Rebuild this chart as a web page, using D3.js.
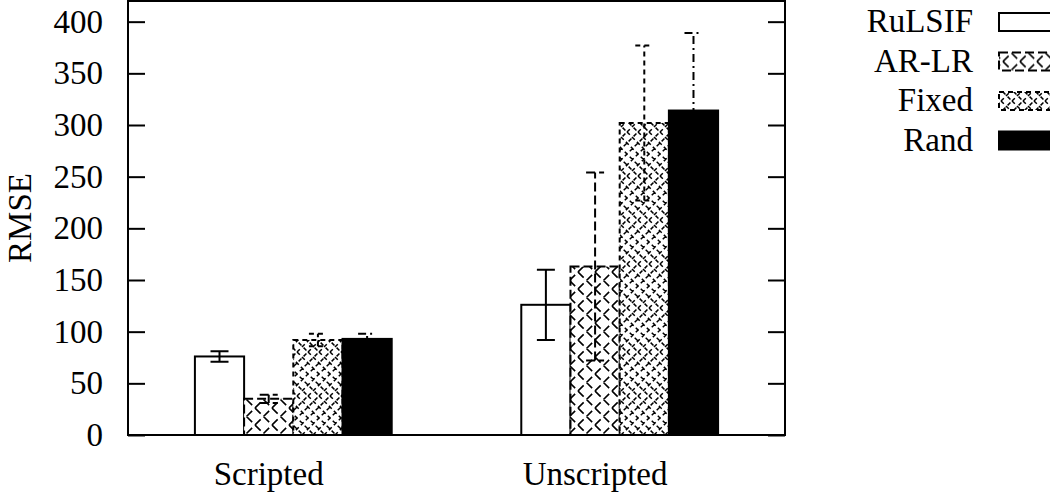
<!DOCTYPE html>
<html>
<head>
<meta charset="utf-8">
<script src="https://cdn.jsdelivr.net/npm/d3@7"></script>
<style>
  body { margin: 0; background: #fff; }
  text { font-family: "Liberation Serif", "DejaVu Serif", serif; fill: #000; }
</style>
</head>
<body>
<div id="chart"></div>
<script>
// data
var groups = ["Scripted", "Unscripted"]
var series = ["RuLSIF", "AR-LR", "Fixed", "Rand"]
var rulsif = [76, 126]
var arlr = [35, 163]
var fixed = [92, 302]
var rand = [93, 314]
var rulsifErr = [5, 34]
var arlrErr = [4, 91]
var fixedErr = [6, 75]
var randErr = [5, 75]
var yTicks = [0, 50, 100, 150, 200, 250, 300, 350, 400]

var means = [rulsif, arlr, fixed, rand]
var errs = [rulsifErr, arlrErr, fixedErr, randErr]

var width = 1050
var height = 495
var plot = { left: 128, right: 785, top: 1, bottom: 435 }
var fontSize = "33px"

var svg = d3.select("#chart")
  .append("svg")
    .attr("width", width)
    .attr("height", height)

// fill patterns, drawn like gnuplot dashed hatch
var defs = svg.append("defs")

function hatch(id, size, n, dash, sw) {
  var p = defs.append("pattern")
    .attr("id", id)
    .attr("patternUnits", "userSpaceOnUse")
    .attr("width", size)
    .attr("height", size)
  p.append("rect").attr("width", size).attr("height", size).attr("fill", "#fff")
  var step = size / n
  var d = ""
  for (var k = -n; k <= n; k++) {
    var o = k * step
    d += "M" + o + ",0L" + (o + size) + "," + size
    d += "M" + o + "," + size + "L" + (o + size) + ",0"
  }
  p.append("path")
    .attr("d", d)
    .attr("stroke", "#000")
    .attr("stroke-width", sw)
    .attr("stroke-dasharray", dash)
}
hatch("pat-arlr", 17, 1, "8,4", 1.6)
hatch("pat-fixed", 44, 4, "4,3", 1.5)

// style per series
var fills = ["#fff", "url(#pat-arlr)", "url(#pat-fixed)", "#000"]
var dashes = [null, "9,4", "5,4", "8,4,2,4"]
var barDashes = [null, "9,4", "5,4", null]

// scales
var y = d3.scaleLinear()
  .domain([0, 420])
  .range([plot.bottom, plot.top])

var x0 = d3.scaleBand()
  .domain(groups)
  .range([plot.left, plot.right])
  .paddingInner(0.397)
  .paddingOuter(0.205)

var x1 = d3.scaleBand()
  .domain(series)
  .range([0, x0.bandwidth()])

// bars
var rows = []
groups.forEach(function(g, gi) {
  series.forEach(function(s, si) {
    rows.push({ group: g, series: s, si: si, value: means[si][gi], err: errs[si][gi] })
  })
})

svg.append("g")
  .selectAll("rect")
  .data(rows)
  .enter()
  .append("rect")
    .attr("x", function(d) { return x0(d.group) + x1(d.series) })
    .attr("y", function(d) { return y(d.value) })
    .attr("width", x1.bandwidth())
    .attr("height", function(d) { return y(0) - y(d.value) })
    .attr("fill", function(d) { return fills[d.si] })
    .attr("stroke", "#000")
    .attr("stroke-width", 2)
    .attr("stroke-dasharray", function(d) { return barDashes[d.si] })

// error bars
var capW = 9
var eb = svg.append("g")
  .selectAll("g")
  .data(rows)
  .enter()
  .append("g")
    .attr("stroke", "#000")
    .attr("stroke-width", 2)
    .attr("fill", "none")
    .attr("stroke-dasharray", function(d) { return dashes[d.si] })

eb.append("path")
  .attr("d", function(d) {
    var cx = x0(d.group) + x1(d.series) + x1.bandwidth() / 2
    var lo = y(d.value - d.err), hi = y(d.value + d.err)
    return "M" + cx + "," + lo + "V" + hi +
      "M" + (cx - capW) + "," + hi + "H" + (cx + capW) +
      "M" + (cx - capW) + "," + lo + "H" + (cx + capW)
  })

// frame with inward ticks on both sides
var axisL = d3.axisLeft(y).tickValues(yTicks).tickSize(-17).tickPadding(25)
var axisR = d3.axisRight(y).tickValues(yTicks).tickSize(-17).tickFormat("")

var gl = svg.append("g")
  .attr("transform", "translate(" + plot.left + ",0)")
  .call(axisL)
gl.select(".domain").remove()
gl.selectAll("line").attr("stroke-width", 2)
gl.selectAll("text")
  .style("font-family", "Liberation Serif")
  .style("font-size", fontSize)

var gr = svg.append("g")
  .attr("transform", "translate(" + plot.right + ",0)")
  .call(axisR)
gr.select(".domain").remove()
gr.selectAll("line").attr("stroke-width", 2)

svg.append("rect")
  .attr("x", plot.left)
  .attr("y", plot.top)
  .attr("width", plot.right - plot.left)
  .attr("height", plot.bottom - plot.top)
  .attr("fill", "none")
  .attr("stroke", "#000")
  .attr("stroke-width", 2)

// group labels (gnuplot puts them under the second bar)
svg.append("g")
  .selectAll("text")
  .data(groups)
  .enter()
  .append("text")
    .attr("x", function(d) { return x0(d) + x1(series[1]) + x1.bandwidth() / 2 })
    .attr("y", 485)
    .attr("text-anchor", "middle")
    .style("font-size", fontSize)
    .text(function(d) { return d })

// y title
svg.append("text")
  .attr("transform", "translate(31," + ((plot.top + plot.bottom) / 2) + ") rotate(-90)")
  .attr("text-anchor", "middle")
  .style("font-size", fontSize)
  .text("RMSE")

// legend
var leg = svg.append("g")
  .selectAll("g")
  .data(series)
  .enter()
  .append("g")
    .attr("transform", function(d, i) { return "translate(0," + (22 + i * 39.5) + ")" })

leg.append("text")
  .attr("x", 973)
  .attr("y", 10)
  .attr("text-anchor", "end")
  .style("font-size", fontSize)
  .text(function(d) { return d })

leg.append("rect")
  .attr("x", 999)
  .attr("y", -9)
  .attr("width", 62)
  .attr("height", 18)
  .attr("fill", function(d, i) { return fills[i] })
  .attr("stroke", "#000")
  .attr("stroke-width", 2)
  .attr("stroke-dasharray", function(d, i) { return barDashes[i] })
</script>
</body>
</html>
